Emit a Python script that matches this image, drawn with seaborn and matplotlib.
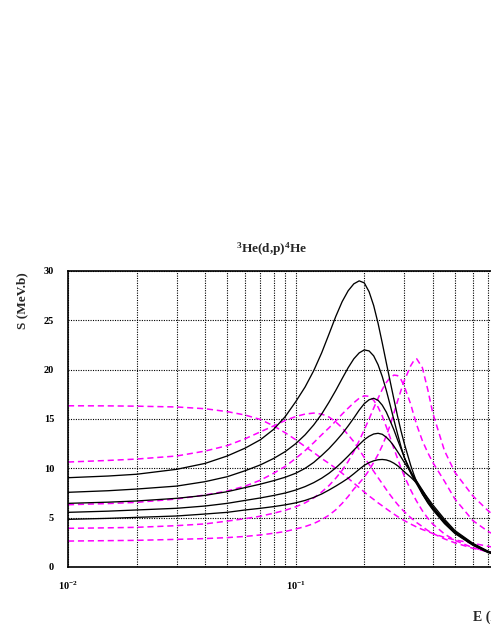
import matplotlib
matplotlib.use('Agg')
import matplotlib.pyplot as plt
import seaborn as sns
from matplotlib.ticker import FixedLocator, FixedFormatter, MultipleLocator, NullFormatter

# energies (MeV) shared by all curves
energy = [0.01, 0.015, 0.02, 0.03, 0.04, 0.05, 0.06, 0.07, 0.08, 0.09,
          0.10, 0.11, 0.12, 0.13, 0.14, 0.15, 0.16, 0.17, 0.18, 0.19,
          0.20, 0.21, 0.22, 0.23, 0.24, 0.25, 0.26, 0.27, 0.28, 0.29,
          0.30, 0.32, 0.33, 0.34, 0.36, 0.38, 0.40, 0.45, 0.50, 0.60,
          0.70, 0.80, 1.00]

# solid black S-factor curves
black_1 = [9.05, 9.22, 9.4, 9.9, 10.5, 11.25, 12.05, 12.9, 13.95, 15.25,
           16.75, 18.25, 19.9, 21.7, 23.6, 25.4, 26.9, 28.0, 28.7, 29.0,
           28.8, 27.9, 26.5, 24.7, 22.7, 20.7, 18.8, 17.0, 15.3, 13.8,
           12.5, 10.3, 9.4, 8.6, 7.4, 6.5, 5.8, 4.4, 3.4, 2.2,
           1.45, 1.1, 0.72]
black_2 = [7.57, 7.73, 7.9, 8.2, 8.65, 9.15, 9.76, 10.35, 11.0, 11.7,
           12.5, 13.4, 14.4, 15.5, 16.7, 17.9, 19.1, 20.2, 21.1, 21.7,
           22.0, 21.9, 21.4, 20.5, 19.3, 17.9, 16.4, 14.9, 13.5, 12.2,
           11.1, 9.5, 8.9, 8.4, 7.4, 6.6, 5.9, 4.5, 3.45, 2.25,
           1.5, 1.12, 0.74]
black_3 = [6.45, 6.57, 6.69, 6.96, 7.26, 7.63, 8.05, 8.4, 8.75, 9.1,
           9.5, 10.0, 10.6, 11.3, 12.0, 12.75, 13.5, 14.3, 15.1, 15.9,
           16.55, 16.95, 17.1, 16.9, 16.4, 15.7, 14.8, 13.9, 12.9, 12.0,
           11.1, 9.7, 9.1, 8.6, 7.6, 6.7, 6.0, 4.6, 3.5, 2.3,
           1.52, 1.14, 0.76]
black_4 = [5.54, 5.66, 5.78, 5.95, 6.18, 6.45, 6.75, 7.0, 7.25, 7.5,
           7.8, 8.15, 8.55, 9.0, 9.5, 10.05, 10.65, 11.25, 11.85, 12.4,
           12.9, 13.25, 13.48, 13.55, 13.45, 13.15, 12.75, 12.25, 11.7, 11.15,
           10.6, 9.6, 9.15, 8.7, 7.8, 6.9, 6.1, 4.7, 3.6, 2.35,
           1.55, 1.16, 0.78]
black_5 = [4.83, 4.93, 5.03, 5.17, 5.37, 5.54, 5.78, 5.95, 6.12, 6.3,
           6.5, 6.75, 7.05, 7.4, 7.8, 8.2, 8.6, 9.0, 9.45, 9.9,
           10.3, 10.58, 10.76, 10.87, 10.9, 10.85, 10.72, 10.52, 10.27, 9.97,
           9.65, 9.1, 8.8, 8.5, 7.75, 7.0, 6.3, 4.85, 3.7, 2.4,
           1.6, 1.2, 0.8]

# dashed magenta curves
magenta_1 = [16.34, 16.33, 16.3, 16.22, 16.04, 15.75, 15.4, 14.95, 14.3, 13.6,
             12.9, 12.2, 11.6, 11.0, 10.5, 10.0, 9.5, 9.0, 8.5, 8.05,
             7.6, 7.2, 6.85, 6.5, 6.2, 5.9, 5.62, 5.36, 5.12, 4.9,
             4.7, 4.35, 4.2, 4.05, 3.8, 3.6, 3.4, 3.0, 2.75, 2.4,
             2.1, 1.85, 1.5]
magenta_2 = [10.64, 10.8, 10.94, 11.25, 11.75, 12.3, 13.0, 13.7, 14.3, 14.85,
             15.25, 15.5, 15.6, 15.5, 15.2, 14.7, 14.1, 13.4, 12.7, 11.9,
             11.1, 10.4, 9.7, 9.05, 8.45, 7.85, 7.3, 6.8, 6.35, 5.95,
             5.6, 5.0, 4.75, 4.5, 4.1, 3.7, 3.4, 2.85, 2.45, 1.9,
             1.55, 1.3, 1.0]
magenta_3 = [6.31, 6.43, 6.55, 6.89, 7.3, 7.7, 8.2, 8.8, 9.5, 10.2,
             11.0, 11.8, 12.6, 13.4, 14.1, 14.8, 15.5, 16.1, 16.65, 17.1,
             17.35, 17.3, 16.9, 16.2, 15.3, 14.2, 13.1, 12.0, 11.0, 10.05,
             9.2, 7.8, 7.2, 6.65, 5.7, 4.95, 4.35, 3.35, 2.7, 1.95,
             1.55, 1.3, 1.0]
magenta_4 = [3.92, 3.97, 4.02, 4.19, 4.37, 4.65, 4.9, 5.15, 5.45, 5.75,
             6.1, 6.5, 7.0, 7.6, 8.25, 9.0, 9.8, 10.7, 11.7, 12.8,
             13.9, 15.0, 16.1, 17.1, 18.0, 18.7, 19.2, 19.45, 19.4, 19.0,
             18.3, 16.5, 15.4, 14.4, 12.8, 11.6, 10.6, 8.7, 6.9, 4.7,
             3.6, 2.9, 2.0]
magenta_5 = [2.63, 2.67, 2.7, 2.8, 2.88, 2.98, 3.1, 3.25, 3.42, 3.6,
             3.85, 4.1, 4.4, 4.8, 5.25, 5.8, 6.45, 7.15, 7.9, 8.5,
             9.1, 9.8, 10.6, 11.4, 12.3, 13.3, 14.4, 15.6, 16.8, 17.9,
             18.9, 20.4, 20.9, 21.1, 20.2, 18.0, 15.6, 11.8, 9.6, 7.2,
             5.7, 4.6, 3.2]

black_curves = [black_1, black_2, black_3, black_4, black_5]
magenta_curves = [magenta_1, magenta_2, magenta_3, magenta_4, magenta_5]

x_major = [0.01, 0.1, 1.0]
# the 10^0 label would sit outside the cropped picture
x_major_labels = [r'$10^{-2}$', r'$10^{-1}$', '']
x_minor = [m * d for d in (0.01, 0.1) for m in range(2, 10)]

sns.set_style('white')
plt.rcParams['font.family'] = ['Liberation Serif', 'DejaVu Serif']
plt.rcParams['font.weight'] = 'bold'
plt.rcParams['mathtext.fontset'] = 'custom'
plt.rcParams['mathtext.rm'] = 'Liberation Serif:bold'
plt.rcParams['mathtext.it'] = 'Liberation Serif:bold'
plt.rcParams['mathtext.bf'] = 'Liberation Serif:bold'

fig = plt.figure(figsize=(4.91, 6.35), dpi=100)
# axes run past the right edge of the picture (the reference is cropped)
ax = fig.add_axes([68 / 491, 68 / 635, 455.4 / 491, 296 / 635])

for s in magenta_curves:
    sns.lineplot(x=energy, y=s, ax=ax, color='#ff00ff', lw=1.1,
                 linestyle=(0, (4, 2.5)), estimator=None, legend=False)
for s in black_curves:
    sns.lineplot(x=energy, y=s, ax=ax, color='black', lw=0.95,
                 estimator=None, legend=False)

ax.set_xscale('log')
ax.set_xlim(0.01, 1.0)
ax.set_ylim(0, 30)
ax.set_xlabel('')
ax.set_ylabel('')

ax.xaxis.set_major_locator(FixedLocator(x_major))
ax.xaxis.set_major_formatter(FixedFormatter(x_major_labels))
ax.xaxis.set_minor_locator(FixedLocator(x_minor))
ax.xaxis.set_minor_formatter(NullFormatter())
ax.yaxis.set_major_locator(MultipleLocator(5))
ax.yaxis.set_minor_locator(MultipleLocator(1))

ax.tick_params(axis='both', which='both', direction='in', colors='black',
               top=False, right=False, width=1.0)
ax.tick_params(axis='x', which='major', length=8.5, pad=9, labelsize=7.5)
ax.tick_params(axis='x', which='minor', length=5.5)
ax.tick_params(axis='y', which='major', length=8.5, pad=10, labelsize=7.5)
ax.tick_params(axis='y', which='minor', length=4)

dotted = (0, (1, 1.2))
ax.grid(True, axis='x', which='both', color='black', lw=0.8, linestyle=dotted)
ax.grid(True, axis='y', which='major', color='black', lw=0.8, linestyle=dotted)
ax.set_axisbelow(True)

for side in ('top', 'bottom', 'left', 'right'):
    ax.spines[side].set_color('black')
    ax.spines[side].set_linewidth(1.2)

fig.text(272 / 491, 1 - 249 / 635, r'$^{3}$He(d,p)$^{4}$He', ha='center', va='center',
         fontsize=9.5, fontweight='bold')
fig.text(22 / 491, 1 - 301 / 635, 'S (MeV.b)', rotation=90, ha='center', va='center',
         fontsize=9.5, fontweight='bold')
# x title is cut by the right edge, as in the reference
fig.text(473 / 491, 1 - 617 / 635, 'E (MeV)', ha='left', va='center',
         fontsize=10, fontweight='bold')

fig.savefig('out.png', dpi=100)
